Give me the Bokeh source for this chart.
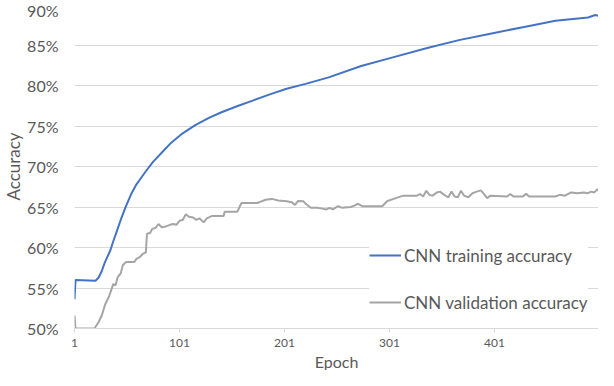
from bokeh.plotting import figure
from bokeh.models import (Range1d, FixedTicker, PrintfTickFormatter, Legend, LegendItem, Title)
from bokeh.embed import file_html
from bokeh.resources import INLINE

# ---- data ----
train_epoch = [1, 2, 21, 24, 27, 30, 35, 38, 41, 45, 50, 55, 60, 65, 70, 76, 84, 92,
               104, 116, 129, 141, 157, 172, 187, 203, 221, 243, 274, 305, 336, 367,
               397, 428, 459, 490, 497, 500]
train_acc = [53.6, 56.0, 55.9, 56.3, 57.1, 58.2, 59.6, 60.8, 61.9, 63.4, 65.1, 66.6,
             67.8, 68.7, 69.6, 70.6, 71.7, 72.8, 74.1, 75.1, 76.0, 76.7, 77.5, 78.2,
             78.9, 79.6, 80.2, 81.0, 82.4, 83.5, 84.6, 85.6, 86.4, 87.2, 88.0, 88.4,
             88.7, 88.6]

val_epoch = [1, 2, 20, 22, 24, 27, 30, 34, 38, 40, 42, 45, 47, 50, 58, 60, 63, 66, 69,
             70, 73, 75, 78, 81, 84, 88, 92, 95, 98, 101, 104, 107, 110, 114, 117, 120,
             124, 127, 132, 143, 144, 156, 160, 175, 179, 183, 189, 195, 203, 208, 211,
             214, 219, 222, 226, 232, 237, 241, 244, 247, 252, 256, 264, 268, 271, 275,
             294, 299, 305, 314, 327, 330, 333, 336, 339, 342, 346, 349, 353, 357, 360,
             363, 366, 369, 372, 376, 380, 384, 388, 391, 394, 397, 413, 416, 419, 428,
             431, 434, 459, 463, 468, 474, 480, 486, 490, 493, 496, 499, 500]
val_acc = [51.6, 50.0, 50.0, 50.4, 50.8, 51.6, 52.9, 54.0, 55.5, 55.3, 56.3, 56.8, 57.8,
           58.2, 58.2, 58.6, 58.8, 59.2, 59.4, 61.7, 61.8, 62.3, 62.4, 62.9, 62.5, 62.6,
           62.8, 62.9, 62.8, 63.3, 63.4, 64.1, 63.8, 63.7, 63.4, 63.6, 63.1, 63.6, 63.9,
           63.9, 64.4, 64.4, 65.5, 65.5, 65.7, 65.9, 66.0, 65.8, 65.7, 65.6, 65.25, 65.75,
           65.7, 65.3, 64.9, 64.9, 64.8, 64.7, 64.9, 64.7, 65.1, 64.9, 65.0, 65.2, 65.4,
           65.1, 65.1, 65.75, 66.0, 66.4, 66.4, 66.6, 66.3, 67.0, 66.5, 66.4, 66.8, 66.9,
           66.5, 66.2, 66.9, 66.3, 66.2, 67.0, 66.4, 66.2, 66.7, 66.9, 67.05, 66.6, 66.1,
           66.4, 66.3, 66.6, 66.3, 66.3, 66.65, 66.3, 66.3, 66.5, 66.4, 66.8, 66.7, 66.8,
           66.7, 66.9, 66.8, 67.2, 67.0]

x_ticks = [1, 101, 201, 301, 401]
y_ticks = [50, 55, 60, 65, 70, 75, 80, 85, 90]
series_names = ["CNN training accuracy", "CNN validation accuracy"]
x_title = "Epoch"
y_title = "Accuracy"

FONT = "Lato"
TXT = "#595959"

p = figure(width=598, height=370, output_backend="svg", toolbar_location=None,
           x_range=Range1d(1, 500), y_range=Range1d(50, 90),
           min_border_left=64, min_border_right=0, min_border_top=4, min_border_bottom=20)
p.outline_line_color = None
p.background_fill_color = "white"

# axes
p.xaxis.ticker = FixedTicker(ticks=x_ticks)
p.xaxis.axis_line_color = "#D9D9D9"
p.xaxis.major_tick_line_color = "#D9D9D9"
p.xaxis.major_tick_out = 4
p.xaxis.major_tick_in = 0
p.xaxis.minor_tick_line_color = None
p.xaxis.major_label_text_font = FONT
p.xaxis.major_label_text_font_size = "12px"
p.xaxis.major_label_text_color = TXT
p.xaxis.major_label_standoff = 6

p.yaxis.ticker = FixedTicker(ticks=y_ticks)
p.yaxis.formatter = PrintfTickFormatter(format="%d%%")
p.yaxis.axis_line_color = None
p.yaxis.major_tick_line_color = None
p.yaxis.major_tick_out = 0
p.yaxis.minor_tick_line_color = None
p.yaxis.major_label_text_font = FONT
p.yaxis.major_label_text_font_size = "16px"
p.yaxis.major_label_text_color = TXT
p.yaxis.major_label_standoff = 16
p.yaxis.axis_label = y_title
p.yaxis.axis_label_text_font = FONT
p.yaxis.axis_label_text_font_size = "17px"
p.yaxis.axis_label_text_font_style = "normal"
p.yaxis.axis_label_text_color = TXT
p.yaxis.axis_label_standoff = 0

p.xgrid.grid_line_color = None
p.ygrid.ticker = FixedTicker(ticks=y_ticks)
p.ygrid.grid_line_color = "#D9D9D9"
p.ygrid.grid_line_width = 1

r1 = p.line(train_epoch, train_acc, line_color="#4472C4", line_width=2)
r2 = p.line(val_epoch, val_acc, line_color="#A5A5A5", line_width=2)

legend = Legend(items=[LegendItem(label=series_names[0], renderers=[r1]),
                       LegendItem(label=series_names[1], renderers=[r2])],
                location=(295, 15), orientation="vertical",
                background_fill_color="white", background_fill_alpha=1.0,
                border_line_color=None, label_text_font=FONT,
                label_text_font_size="17px", label_text_color=TXT,
                glyph_width=32, glyph_height=20, label_height=22, spacing=25,
                padding=10, margin=0, label_standoff=3)
p.add_layout(legend, "center")

# x-axis title as a Title below the axis
p.add_layout(Title(text=x_title, align="center", text_font=FONT, text_font_size="16px",
                   text_font_style="normal", text_color=TXT, standoff=0, offset=0),
             "below")

open("out.html", "w").write(file_html(p, INLINE))
